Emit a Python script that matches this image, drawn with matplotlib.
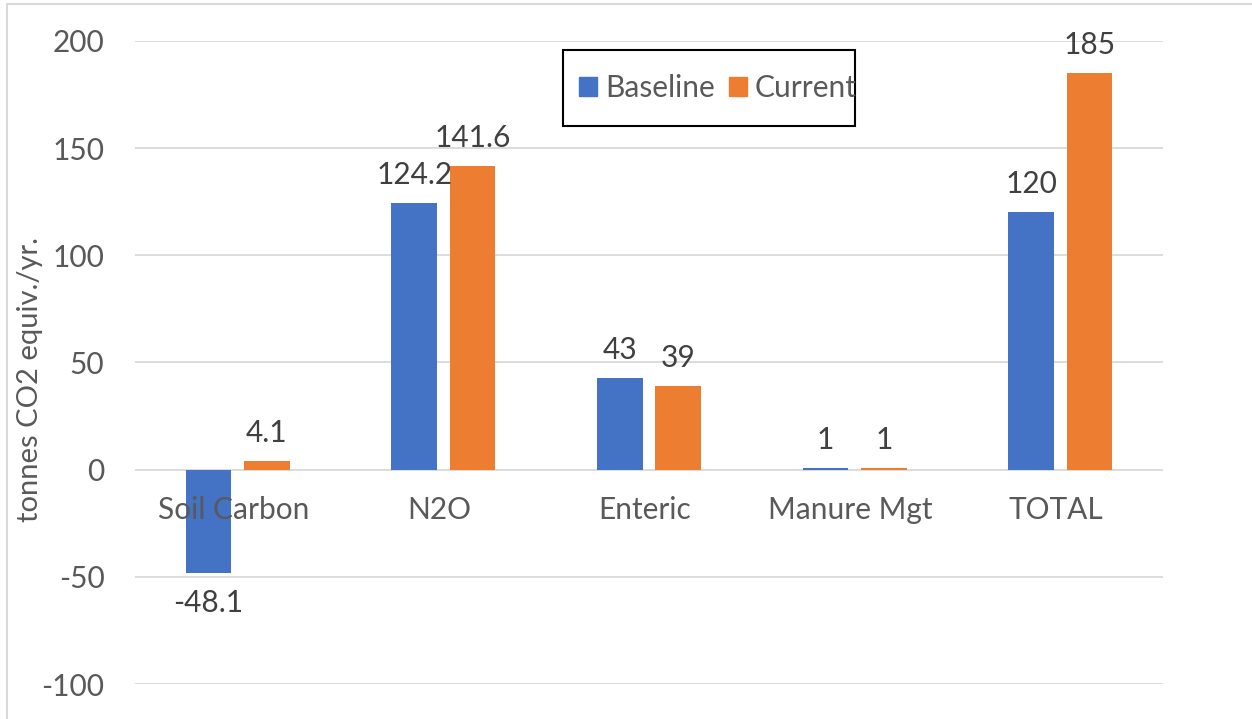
import matplotlib
matplotlib.use("Agg")
import matplotlib.pyplot as plt
from matplotlib.patches import Rectangle, Patch
import numpy as np

categories = ["Soil Carbon", "N2O", "Enteric", "Manure Mgt", "TOTAL"]
baseline = [-48.1, 124.2, 43, 1, 120]
current = [4.1, 141.6, 39, 1, 185]
label_baseline = ["-48.1", "124.2", "43", "1", "120"]
label_current = ["4.1", "141.6", "39", "1", "185"]
yticks = [-100, -50, 0, 50, 100, 150, 200]
series_names = ["Baseline", "Current"]
colors = ["#4472C4", "#ED7D31"]

plt.rcParams["font.family"] = ["Lato", "DejaVu Sans"]
plt.rcParams["axes.unicode_minus"] = False

FS = 21.5
W, H = 1252, 719
fig = plt.figure(figsize=(W / 100, H / 100), dpi=100)

# outer chart border (left and top edges visible)
fig.patches.append(Rectangle((7 / W, -0.2), 1.5, (H - 4) / H + 0.2,
                             transform=fig.transFigure, fill=False,
                             edgecolor="#D9D9D9", linewidth=1.5))

ax = fig.add_axes([135 / W, (H - 684) / H, 1028 / W, 643 / H])
x = np.arange(len(categories))
bw = 0.221
off = 0.142
ax.bar(x - off, baseline, bw, color=colors[0], zorder=2)
ax.bar(x + off, current, bw, color=colors[1], zorder=2)

ax.set_xlim(-0.5, len(categories) - 0.5)
ax.set_ylim(-100, 200)
ax.set_yticks(yticks)
ax.grid(axis="y", color="#D9D9D9", linewidth=1.3, zorder=0)
for s in ax.spines.values():
    s.set_visible(False)
ax.tick_params(axis="y", length=0, pad=22, labelsize=FS, labelcolor="#595959")
ax.set_xticks([])

# category labels sit just below the zero line
for xi, name in zip(x, categories):
    ax.annotate(name, (xi - 0.02, 0), xytext=(0, -40), textcoords="offset pixels",
                ha="center", va="center", fontsize=FS, color="#595959",
                annotation_clip=False, zorder=3)

def add_labels(values, labels, dx):
    for xi, v, t in zip(x, values, labels):
        if v >= 0:
            ax.annotate(t, (xi + dx, v), xytext=(0, 14), textcoords="offset pixels",
                        ha="center", va="bottom", fontsize=FS, color="#404040")
        else:
            ax.annotate(t, (xi + dx, v), xytext=(0, -16), textcoords="offset pixels",
                        ha="center", va="top", fontsize=FS, color="#404040")

add_labels(baseline, label_baseline, -off)
add_labels(current, label_current, off)

fig.text(30 / W, 1 - 380 / H, "tonnes CO2 equiv./yr.", rotation=90,
         ha="center", va="center", fontsize=21, color="#595959")

# legend box
fig.patches.append(Rectangle((563 / W, 1 - 126 / H), 292 / W, 76 / H,
                             transform=fig.transFigure, fill=True, facecolor="white",
                             edgecolor="black", linewidth=1.5, zorder=5))
handles = [Patch(color=c) for c in colors]
leg = fig.legend(handles, series_names, loc="center left",
                 bbox_to_anchor=(552 / W, 1 - 88 / H), frameon=False,
                 ncol=2, fontsize=FS, handlelength=0.6, handleheight=0.6,
                 handletextpad=0.27, columnspacing=0.47, labelcolor="#595959")
leg.set_zorder(6)

fig.savefig("out.png", dpi=100)
